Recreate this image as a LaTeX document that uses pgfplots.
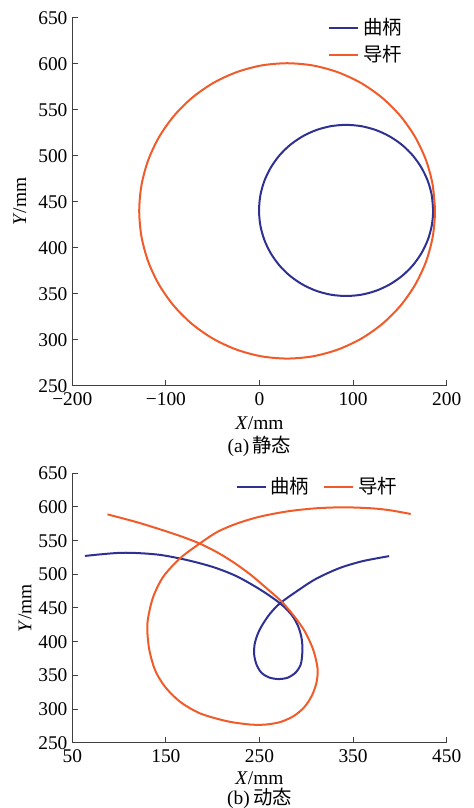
\documentclass[border=0pt]{standalone}
\usepackage{fontspec}
\setmainfont{Liberation Serif}
\newfontfamily\cjk{Noto Sans CJK SC}
\usepackage{pgfplots}
\pgfplotsset{compat=1.18}

\definecolor{crank}{RGB}{46,49,146}
\definecolor{guide}{RGB}{241,90,41}

\pgfplotsset{
  mech/.style={
    scale only axis, clip=false,
    width=187.2pt,
    axis x line=bottom, axis y line=left,
    axis line style={-, black!75, line width=0.6pt},
    tick align=inside, major tick length=3pt,
    tick style={black!75, line width=0.5pt},
    minor tick num=0,
    /pgf/number format/assume math mode=true,
    ytick={250,300,...,650}, ymin=250, ymax=650,
    yticklabel style={xshift=1pt},
    legend cell align=left,
    legend image code/.code={\draw[#1] (0pt,0pt) -- (14.5pt,0pt);},
    legend style={draw=none, fill=none, inner sep=0pt, row sep=0pt,
      nodes={text height=9pt, text depth=2.5pt, inner ysep=1pt}},
    every axis plot/.append style={line width=1pt, smooth},
  }
}

\begin{document}
\fontsize{9.7}{11.6}\selectfont
\begin{tikzpicture}
\path[use as bounding box] (0,0) rectangle (237pt,404pt);

% (a) static
\begin{axis}[mech,
  at={(36.15pt,211.15pt)}, anchor=south west,
  height=184pt,
  xmin=-200, xmax=200, xtick={-200,-100,...,200},
  xticklabels={−200,−100,0,100,200},
  xlabel={\textit{X}/mm}, ylabel={\textit{Y}/mm},
  xlabel style={at={(axis description cs:0.5,-0.102)}, anchor=center},
  ylabel style={at={(axis description cs:-0.14,0.5)}, anchor=center},
  legend style={at={(0.683,1.01)}, anchor=north west},
]
\addplot[crank] coordinates {
(185.5,440.5)(184.1,456.7)(179.9,472.3)(173.0,487.0)(163.7,500.3)(152.3,511.7)
(139.0,521.0)(124.3,527.9)(108.7,532.1)(92.5,533.5)(76.4,532.1)(60.7,527.9)
(46.0,521.0)(32.7,511.7)(21.3,500.3)(12.0,487.0)(5.1,472.3)(0.9,456.7)
(-0.5,440.5)(0.9,424.4)(5.1,408.7)(12.0,394.0)(21.3,380.7)(32.7,369.3)
(46.0,360.0)(60.7,353.1)(76.4,348.9)(92.5,347.5)(108.7,348.9)(124.3,353.1)
(139.0,360.0)(152.3,369.3)(163.7,380.7)(173.0,394.0)(179.9,408.7)(184.1,424.4)
(185.5,440.5)(184.1,456.7)
};
\addlegendentry{\cjk 曲柄}
\addplot[guide] coordinates {
(187.5,440)(185.1,467.9)(178.0,494.9)(166.3,520.3)(150.5,543.2)(131.1,562.9)
(108.5,579.0)(83.5,590.8)(56.9,598.1)(29.5,600.5)(2.1,598.1)(-24.5,590.8)
(-49.5,579.0)(-72.1,562.9)(-91.5,543.2)(-107.3,520.3)(-119.0,494.9)(-126.1,467.9)
(-128.5,440)(-126.1,412.1)(-119.0,385.1)(-107.3,359.7)(-91.5,336.8)(-72.1,317.1)
(-49.5,301.0)(-24.5,289.2)(2.1,281.9)(29.5,279.5)(56.9,281.9)(83.5,289.2)
(108.5,301.0)(131.1,317.1)(150.5,336.8)(166.3,359.7)(178.0,385.1)(185.1,412.1)
(187.5,440)(185.1,467.9)
};
\addlegendentry{\cjk 导杆}
\node at (axis description cs:0.5,-0.164) {(a)\,{\cjk 静态}};
\end{axis}

% (b) dynamic
\begin{axis}[mech,
  at={(36.15pt,32.65pt)}, anchor=south west,
  height=134.7pt,
  xmin=50, xmax=450, xtick={50,150,...,450},
  xlabel={\textit{X}/mm}, ylabel={\textit{Y}/mm},
  xlabel style={at={(axis description cs:0.5,-0.132)}, anchor=center},
  ylabel style={at={(axis description cs:-0.126,0.5)}, anchor=center},
  legend columns=2,
  legend style={at={(0.435,1.0)}, anchor=north west,
    /tikz/every even column/.append style={column sep=5pt}},
]
\addplot[crank] coordinates {
(63.5,527.3)(103,532)(140,529.5)(170,522)(200,511)(225,497.5)(250,478)
(271.9,457)(284.4,439.6)(291.5,422.2)(295.3,402.5)(295.7,382.7)(294,366)
(288.5,354)(280,346.5)(270,344.5)(260,347)(252,354)(246.8,366)(244.3,381)
(244.8,396)(248,411)(253.5,426)(261.5,442)(271.9,457)(290,475)(310,493)
(335,509)(360,519.5)(388.5,527)
};
\addlegendentry{\cjk 曲柄}
\addplot[guide] coordinates {
(87.6,589)(120,577)(150,564)(168,555.5)(186.4,545.5)(205,532.5)(222,518)
(240,500)(257,480)(274,459)(288,436)(298.6,414.8)(307.5,387.6)
(312,360.5)(311,340)(306,320)(298,303)(287,290)(273,281)(257,277)(240,277)
(215,282)(186.4,293.6)(165.1,310.9)(149,333.1)(138.4,357.9)(132.3,387.6)
(130.1,417.3)(131.2,437)(136.5,466.8)(147.2,496.5)(165.1,523.8)(186.4,546)
(205,563)(225,575)(250,585.5)(280,593.5)(310,598)(340,599.5)(370,598)
(390,595)(411.5,589.6)
};
\addlegendentry{\cjk 导杆}
\node at (axis description cs:0.5,-0.206) {(b)\,{\cjk 动态}};
\end{axis}
\end{tikzpicture}
\end{document}
